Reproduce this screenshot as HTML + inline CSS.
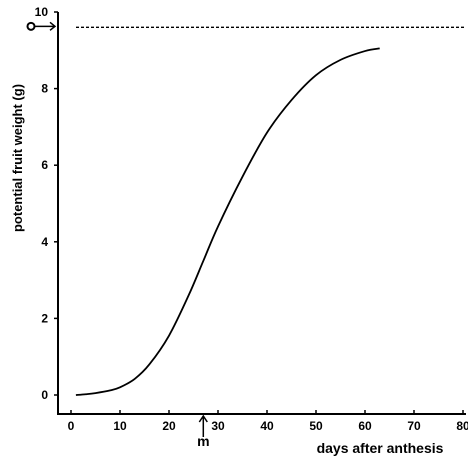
<!DOCTYPE html>
<html><head><meta charset="utf-8"><style>
body{margin:0;background:#fff;}
svg{display:block;font-family:"Liberation Sans",sans-serif;font-weight:bold;}
</style></head><body>
<svg width="468" height="459">
<g id="axes"></g>
<g id="plot"></g>
</svg>
<script>
const xTicks=[0,10,20,30,40,50,60,70,80];
const yTicks=[0,2,4,6,8,10];
const days=[1,3,5,8,10,13,16,20,24,27,30,35,40,45,50,55,60,63];
const weight=[0,0.02,0.05,0.12,0.2,0.42,0.8,1.55,2.6,3.5,4.4,5.7,6.85,7.7,8.35,8.75,8.98,9.05];
const cValue=9.6;
const mDay=27;
const X=d=>71+4.9*d, Y=v=>395-38.3*v;
const ns="http://www.w3.org/2000/svg";
const svg=document.querySelector('svg');
function mk(t,a,p){const e=document.createElementNS(ns,t);for(const k in a)e.setAttribute(k,a[k]);(p||svg).appendChild(e);return e;}
const ax=document.getElementById('axes'),pl=document.getElementById('plot');
let e=mk('line',{x1:58,y1:12,x2:58,y2:415,stroke:'#000','stroke-width':2},ax);


e=mk('line',{x1:57,y1:414,x2:466,y2:414,stroke:'#000','stroke-width':2},ax);


xTicks.forEach(t=>{
 mk('line',{x1:X(t),y1:414,x2:X(t),y2:410,stroke:'#000','stroke-width':1.5},ax);
 const tx=mk('text',{x:X(t),y:430,'text-anchor':'middle','font-size':12},ax);tx.textContent=t;
 
 
});
yTicks.forEach(t=>{
 mk('line',{x1:58,y1:Y(t),x2:54,y2:Y(t),stroke:'#000','stroke-width':1.5},ax);
 const tx=mk('text',{x:48,y:Y(t)+4,'text-anchor':'end','font-size':12},ax);tx.textContent=t;
 
 
});
let t=mk('text',{x:0,y:0,transform:'translate(22,158) rotate(-90)','text-anchor':'middle','font-size':13},ax);
t.textContent='potential fruit weight (g)';


t=mk('text',{x:380,y:453,'text-anchor':'middle','font-size':14},ax);
t.textContent='days after anthesis';


e=mk('line',{x1:X(0)+5,y1:Y(cValue),x2:466,y2:Y(cValue),stroke:'#000','stroke-width':1.3,'stroke-dasharray':'3,2'},pl);


e=mk('circle',{cx:31,cy:Y(cValue)-1,r:3.5,fill:'none',stroke:'#000','stroke-width':2},pl);


mk('path',{d:`M35 ${Y(cValue)-1}H55M50 ${Y(cValue)-5}L55 ${Y(cValue)-1}L50 ${Y(cValue)+3}`,stroke:'#000','stroke-width':1.5,fill:'none'},pl);
e=mk('path',{d:`M${X(mDay)} 437V417M${X(mDay)-4} 422L${X(mDay)} 416L${X(mDay)+4} 422`,stroke:'#000','stroke-width':1.5,fill:'none'},pl);


t=mk('text',{x:X(mDay),y:446,'text-anchor':'middle','font-size':14},pl);t.textContent='m';


const pts=days.map((d,i)=>[X(d),Y(weight[i])]);
let dstr='M'+pts[0][0]+' '+pts[0][1];
for(let i=1;i<pts.length;i++){
 const p0=pts[Math.max(0,i-2)],p1=pts[i-1],p2=pts[i],p3=pts[Math.min(pts.length-1,i+1)];
 dstr+=` C${p1[0]+(p2[0]-p0[0])/6} ${p1[1]+(p2[1]-p0[1])/6} ${p2[0]-(p3[0]-p1[0])/6} ${p2[1]-(p3[1]-p1[1])/6} ${p2[0]} ${p2[1]}`;
}
e=mk('path',{d:dstr,stroke:'#000','stroke-width':1.8,fill:'none'},pl);


</script>
</body></html>
